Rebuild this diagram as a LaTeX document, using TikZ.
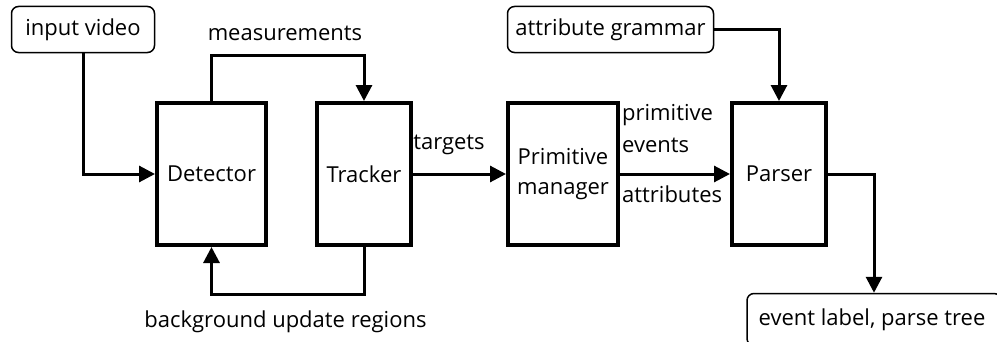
\documentclass[tikz,border=0pt]{standalone}
\usepackage{fontspec}
\setmainfont{Open Sans}
\usetikzlibrary{arrows.meta}
\begin{document}
\begin{tikzpicture}[x=1pt,y=1pt,
  font=\fontsize{22}{30}\selectfont,
  blockbox/.style={draw,line width=4pt,inner sep=0pt,align=center},
  iobox/.style={draw,line width=1.5pt,rounded corners=7pt,inner sep=0pt},
  arr/.style={line width=3pt,-{Triangle[length=16pt,width=16pt]}},
  lbl/.style={inner sep=0pt}]
\useasboundingbox (0,0) rectangle (997,341);
\node[blockbox,minimum width=109pt,minimum height=142pt] (det) at (211.5,167) {Detector};
\node[blockbox,minimum width=94pt,minimum height=142pt] (trk) at (364,167) {Tracker};
\node[blockbox,minimum width=110pt,minimum height=142pt] (pm) at (563,167) {Primitive\\manager};
\node[blockbox,minimum width=94pt,minimum height=142pt] (par) at (779,167) {Parser};
\node[iobox,minimum width=143pt,minimum height=46pt] (in) at (83,311.5) {input video};
\node[iobox,minimum width=206pt,minimum height=46pt] (ag) at (610.5,311.5) {attribute grammar};
\node[iobox,minimum width=254pt,minimum height=52pt] (out) at (874,21.5) {};
\node[lbl] (outt) at (872,21) {event label, parse tree};
\draw[arr] (in.south) |- (det.west);
\draw[arr] (det.north) -- (det.north |- 0,286) -| (trk.north);
\draw[arr] (trk.east) -- (pm.west);
\draw[arr] (pm.east) -- (par.west);
\draw[arr] (ag.east) -| (par.north);
\draw[arr] (par.east) -| (out.north);
\draw[arr] (trk.south) -- (trk.south |- 0,47) -| (det.south);
\node[lbl] (lm) at (285,308) {measurements};
\node[lbl] (lt) at (449,196) {targets};
\node[lbl,anchor=west,align=left,font=\fontsize{22}{32}\selectfont] (lp) at (622,212) {primitive\\events};
\node[lbl,anchor=west] (la) at (622,147) {attributes};
\node[lbl] (lb) at (285.5,19) {background update regions};
\end{tikzpicture}
\end{document}
